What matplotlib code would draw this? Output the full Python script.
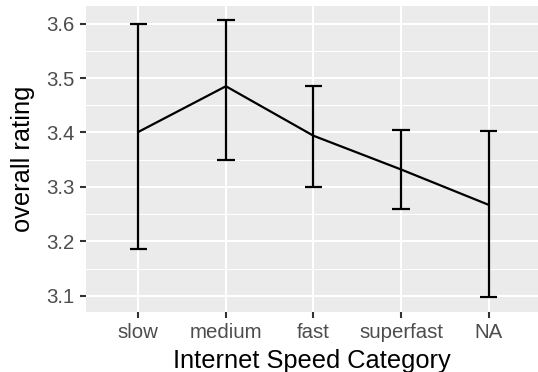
import matplotlib
matplotlib.use("Agg")
import matplotlib.pyplot as plt
import numpy as np

# ------------------------------------------------------------
# Data: mean overall rating by internet speed category
# ------------------------------------------------------------
categories = ["slow", "medium", "fast", "superfast", "NA"]
mean_rating = [3.401, 3.485, 3.394, 3.332, 3.267]
lower = [3.186, 3.350, 3.299, 3.260, 3.097]
upper = [3.600, 3.606, 3.485, 3.404, 3.403]

y_ticks = [3.1, 3.2, 3.3, 3.4, 3.5, 3.6]
y_minor = [3.15, 3.25, 3.35, 3.45, 3.55]

# ------------------------------------------------------------
# Style (grey panel, white grid)
# ------------------------------------------------------------
plt.rcParams["font.family"] = ["Liberation Sans", "DejaVu Sans"]

fig = plt.figure(figsize=(5.38, 3.72), dpi=100)
ax = fig.add_axes([86 / 538, 1 - 311.7 / 372, 452 / 538, 305.7 / 372])
ax.set_facecolor("#EBEBEB")

x = np.arange(1, len(categories) + 1)

# grid
for yv in y_minor:
    ax.axhline(yv, color="white", linewidth=0.75, zorder=1)
for yv in y_ticks:
    ax.axhline(yv, color="white", linewidth=1.5, zorder=1)
for xv in x:
    ax.axvline(xv, color="white", linewidth=1.5, zorder=1)

# error bars
half_w = 0.1
ax.vlines(x, lower, upper, color="black", linewidth=1.6, zorder=3)
ax.hlines(lower, x - half_w, x + half_w, color="black", linewidth=1.6, zorder=3)
ax.hlines(upper, x - half_w, x + half_w, color="black", linewidth=1.6, zorder=3)

# mean line
ax.plot(x, mean_rating, color="black", linewidth=1.6, zorder=4)

# axes
ax.set_xlim(0.403, 5.563)
ax.set_ylim(3.0706, 3.6325)
ax.set_xticks(x)
ax.set_xticklabels(categories)
ax.set_yticks(y_ticks)
ax.set_yticklabels([f"{v:.1f}" for v in y_ticks])

ax.tick_params(axis="both", length=4, width=1.5, color="#333333",
               labelcolor="#4D4D4D", labelsize=14.7)
ax.tick_params(axis="x", pad=4)
ax.tick_params(axis="y", pad=4.5)

for spine in ax.spines.values():
    spine.set_visible(False)

ax.set_xlabel("Internet Speed Category", fontsize=18.3, color="black", labelpad=5)
ax.set_ylabel("overall rating", fontsize=18.3, color="black", labelpad=8)

fig.savefig("out.png", dpi=100)
